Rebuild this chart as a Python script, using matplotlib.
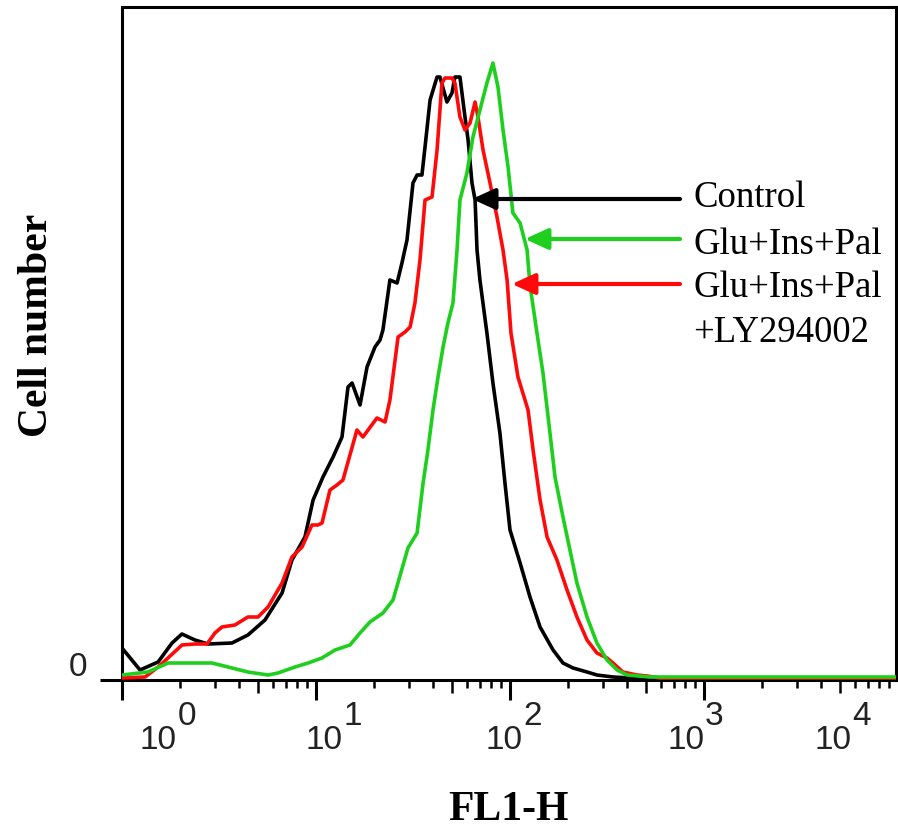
import numpy as np
import matplotlib
matplotlib.use("Agg")
import matplotlib.pyplot as plt
from matplotlib.ticker import FixedLocator, NullFormatter

# log10(FL1-H) positions and cell counts
ctrl_log = [0.000, 0.093, 0.186, 0.258, 0.309, 0.376, 0.443, 0.567, 0.649, 0.737,
            0.825, 0.876, 0.943, 0.985, 1.036, 1.088, 1.134, 1.165, 1.186, 1.227,
            1.263, 1.304, 1.330, 1.345, 1.381, 1.418, 1.443, 1.469, 1.500, 1.521,
            1.546, 1.562, 1.588, 1.624, 1.639, 1.675, 1.701, 1.716, 1.742, 1.768,
            1.784, 1.804, 1.820, 1.830, 1.845, 1.881, 1.912, 1.948, 1.974, 2.000,
            2.052, 2.103, 2.155, 2.222, 2.273, 2.325, 2.397, 2.448, 2.531, 2.722, 3.995]
ctrl_cnt = [32, 10, 18, 37, 46, 40, 36, 37, 45, 60,
            87, 120, 143, 180, 203, 223, 243, 293, 297, 275,
            313, 333, 340, 350, 400, 397, 417, 440, 497, 505,
            505, 533, 580, 603, 603, 578, 587, 603, 603, 563,
            540, 497, 480, 430, 400, 347, 297, 247, 197, 150,
            117, 83, 53, 30, 17, 12, 8, 5, 3, 1, 1]

ly_log = [0.000, 0.119, 0.186, 0.237, 0.309, 0.376, 0.438, 0.479, 0.515, 0.582,
          0.649, 0.701, 0.753, 0.825, 0.876, 0.928, 0.979, 1.010, 1.031, 1.072,
          1.108, 1.139, 1.211, 1.242, 1.314, 1.356, 1.381, 1.423, 1.459, 1.485,
          1.510, 1.536, 1.562, 1.598, 1.624, 1.649, 1.665, 1.701, 1.716, 1.742,
          1.768, 1.794, 1.820, 1.835, 1.861, 1.897, 1.933, 1.964, 1.985, 2.005,
          2.041, 2.093, 2.119, 2.155, 2.191, 2.242, 2.294, 2.345, 2.397, 2.448,
          2.500, 2.531, 2.582, 2.655, 2.706, 2.773, 3.995]
ly_cnt = [2, 3, 13, 22, 35, 36, 36, 47, 53, 55,
          63, 63, 73, 97, 123, 133, 155, 155, 157, 190,
          195, 200, 250, 243, 262, 258, 280, 343, 348, 353,
          377, 420, 480, 483, 530, 597, 602, 602, 597, 563,
          550, 557, 578, 563, 530, 497, 463, 430, 400, 347,
          303, 270, 230, 180, 143, 120, 90, 63, 40, 27,
          22, 17, 8, 5, 4, 2, 2]

gip_log = [0.000, 0.134, 0.237, 0.464, 0.567, 0.649, 0.753, 0.804, 0.892, 0.959,
           1.031, 1.098, 1.175, 1.227, 1.278, 1.345, 1.397, 1.474, 1.521, 1.552,
           1.577, 1.603, 1.629, 1.655, 1.680, 1.706, 1.727, 1.742, 1.778, 1.809,
           1.845, 1.881, 1.912, 1.938, 1.964, 1.990, 2.015, 2.052, 2.088, 2.103,
           2.139, 2.170, 2.206, 2.232, 2.273, 2.309, 2.345, 2.397, 2.448, 2.500,
           2.552, 2.603, 2.722, 3.995]
gip_cnt = [5, 8, 17, 17, 12, 8, 5, 7, 13, 17,
           22, 30, 35, 47, 58, 67, 80, 132, 147, 197,
           230, 270, 303, 333, 357, 377, 430, 480, 507, 543,
           570, 597, 617, 593, 550, 513, 467, 457, 430, 395,
           347, 307, 247, 203, 163, 130, 97, 63, 37, 20,
           10, 5, 3, 3]

# legend: colour and arrow tip (log x, count) per series, then the text lines
colors = ["#000000", "#1ecf1e", "#ff0a0a"]
tips = [(1.804, 481), (2.077, 441), (2.010, 396)]
label_lines = ["Control", "Glu+Ins+Pal", "Glu+Ins+Pal", "+LY294002"]
line_y = [482, 435, 392, 347]

x_exps = [0, 1, 2, 3, 4]
y_ticks = [0]

W, H = 898, 834
fig = plt.figure(figsize=(W / 100, H / 100), dpi=100)
ax = fig.add_axes([122 / W, (H - 680) / H, (896 - 122) / W, (680 - 7) / H])

kw = dict(lw=2.6, solid_joinstyle="round", solid_capstyle="round")
ax.plot(10 ** np.array(ctrl_log), ctrl_cnt, color=colors[0], zorder=3, **kw)
ax.plot(10 ** np.array(ly_log), ly_cnt, color=colors[2], zorder=4, **kw)
ax.plot(10 ** np.array(gip_log), gip_cnt, color=colors[1], zorder=5, **kw)

ax.set_xscale("log")
ax.set_xlim(1, 10 ** (774 / 194))
ax.set_ylim(0, 673)

for s in ax.spines.values():
    s.set_linewidth(2.2)

# ticks
ax.xaxis.set_major_locator(FixedLocator([10.0 ** e for e in x_exps]))
minor = [m * 10.0 ** e for e in x_exps[:-1] for m in range(2, 10)]
ax.xaxis.set_minor_locator(FixedLocator(minor))
ax.xaxis.set_major_formatter(NullFormatter())
ax.xaxis.set_minor_formatter(NullFormatter())
ax.tick_params(axis="x", which="major", length=14.4, width=2.2, direction="out")
ax.tick_params(axis="x", which="minor", length=6, width=1.8, direction="out")
ax.set_yticks(y_ticks)
ax.set_yticklabels([])
ax.tick_params(axis="y", which="major", length=16, width=2.2, direction="out")
ax.yaxis.set_minor_locator(FixedLocator([]))

for loc, t in zip(minor, ax.xaxis.get_minor_ticks()):
    if abs(loc / 10 ** np.floor(np.log10(loc)) - 5) < 1e-6:
        t.tick1line.set_markersize(9.5)

# FlowJo-style tick labels, "10" with raised exponent
lab_shift = [55, 26, 12, 0, -47]
for e, dx in zip(x_exps, lab_shift):
    ax.annotate("10", xy=(10.0 ** e, 0), xycoords=("data", "axes fraction"),
                xytext=(dx, -69), textcoords="offset pixels", ha="right", va="baseline",
                fontsize=24, family="Liberation Sans", color="#222222", annotation_clip=False)
    ax.annotate(str(e), xy=(10.0 ** e, 0), xycoords=("data", "axes fraction"),
                xytext=(dx + 1, -45), textcoords="offset pixels", ha="left", va="baseline",
                fontsize=24, family="Liberation Sans", color="#222222", annotation_clip=False)
for v in y_ticks:
    ax.annotate(str(v), xy=(0, v), xycoords=("axes fraction", "data"),
                xytext=(-44, 13), textcoords="offset pixels", ha="center", va="center",
                fontsize=24, family="Liberation Sans", color="#222222", annotation_clip=False)

# arrows + labels
tail = 10 ** ((680 - 122) / 194)
txt_x = 10 ** ((693 - 122) / 194)
for c, (tx, ty) in zip(colors, tips):
    ax.annotate("", xy=(10 ** tx, ty), xytext=(tail, ty),
                arrowprops=dict(arrowstyle="-|>,head_length=0.7,head_width=0.32",
                                color=c, lw=3, mutation_scale=20, shrinkA=0, shrinkB=0),
                zorder=6)
for lab, yy in zip(label_lines, line_y):
    ax.text(txt_x, yy, lab, ha="left", va="center",
            fontsize=26.5, family="Liberation Serif")

fig.text(37 / W, 1 - 325 / H, "Cell number", rotation=90, ha="center", va="center",
         fontsize=30, family="Liberation Serif", fontweight="bold")
fig.text(508 / W, 1 - 810 / H, "FL1-H", ha="center", va="center",
         fontsize=30, family="Liberation Serif", fontweight="bold")

fig.savefig("out.png", dpi=100)
